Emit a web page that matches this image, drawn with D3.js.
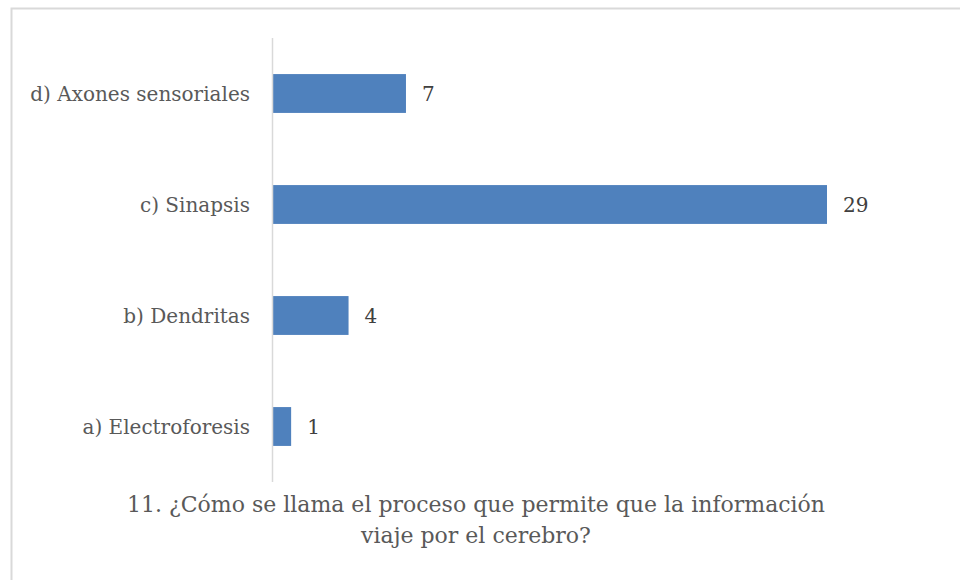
<!DOCTYPE html>
<html>
<head>
<meta charset="utf-8">
<script src="https://cdn.jsdelivr.net/npm/d3@7"></script>
<style>
  body { margin: 0; background: #fff; }
  svg { display: block; }
</style>
</head>
<body>
<svg id="chart" width="960" height="580"></svg>
<script>
const categories = ["a) Electroforesis", "b) Dendritas", "c) Sinapsis", "d) Axones sensoriales"];
const values = [1, 4, 29, 7];
const titleLines = ["11. ¿Cómo se llama el proceso que permite que la información", "viaje por el cerebro?"];

const svg = d3.select("#chart");
const font = "'DejaVu Serif', serif";
const textColor = "#595959";

// chart frame
svg.append("rect")
    .attr("x", 11.5).attr("y", 8.5)
    .attr("width", 960).attr("height", 600)
    .attr("fill", "#fff")
    .attr("stroke", "#d9d9d9")
    .attr("stroke-width", 2);

const plot = { left: 272, top: 38, bottom: 482 };

const x = d3.scaleLinear()
    .domain([0, 29])
    .range([plot.left, 827]);

// reversed so the first category sits at the bottom
const y = d3.scaleBand()
    .domain(categories.slice().reverse())
    .range([plot.top, plot.bottom])
    .paddingInner(0.65)
    .paddingOuter(0.325);

svg.selectAll(".bar")
    .data(categories)
    .join("rect")
    .attr("class", "bar")
    .attr("x", x(0))
    .attr("y", d => y(d))
    .attr("width", (d, i) => x(values[i]) - x(0))
    .attr("height", y.bandwidth())
    .attr("fill", "#4f81bd");

// vertical axis line
svg.append("line")
    .attr("x1", plot.left + 0.5).attr("x2", plot.left + 0.5)
    .attr("y1", plot.top).attr("y2", plot.bottom)
    .attr("stroke", "#d9d9d9")
    .attr("stroke-width", 1.5);

// category labels
svg.selectAll(".cat")
    .data(categories)
    .join("text")
    .attr("class", "cat")
    .attr("x", 250)
    .attr("y", d => y(d) + y.bandwidth() / 2)
    .attr("dy", "0.35em")
    .attr("text-anchor", "end")
    .attr("font-family", font)
    .attr("font-size", 20)
    .attr("fill", textColor)
    .text(d => d);

// value labels
svg.selectAll(".val")
    .data(categories)
    .join("text")
    .attr("class", "val")
    .attr("x", (d, i) => x(values[i]) + 16)
    .attr("y", d => y(d) + y.bandwidth() / 2)
    .attr("dy", "0.35em")
    .attr("font-family", font)
    .attr("font-size", 20)
    .attr("fill", "#404040")
    .text((d, i) => values[i]);

// title
svg.selectAll(".title")
    .data(titleLines)
    .join("text")
    .attr("class", "title")
    .attr("x", 476)
    .attr("y", (d, i) => 512 + i * 31)
    .attr("text-anchor", "middle")
    .attr("font-family", font)
    .attr("font-size", 22)
    .attr("fill", textColor)
    .text(d => d);
</script>
</body>
</html>
